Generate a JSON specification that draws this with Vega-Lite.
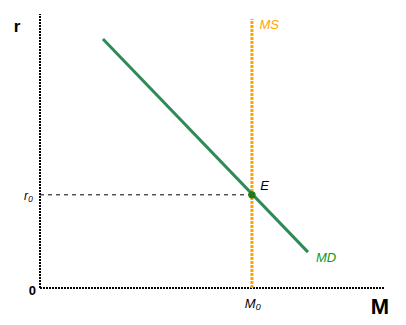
{
  "$schema": "https://vega.github.io/schema/vega-lite/v6.json",
  "width": 344,
  "height": 274,
  "autosize": {"type": "none"},
  "padding": {"left": 40, "top": 14, "right": 22, "bottom": 37},
  "background": "white",
  "config": {"view": {"stroke": null}, "font": "Liberation Sans"},
  "encoding": {
    "x": {"type": "quantitative", "scale": {"domain": [0, 100], "nice": false, "zero": false}, "axis": null},
    "y": {"type": "quantitative", "scale": {"domain": [0, 100], "nice": false, "zero": false}, "axis": null}
  },
  "layer": [
    {
      "data": {"values": [{"x": 0, "y": 0, "x2": 0, "y2": 100}, {"x": 0, "y": 0, "x2": 100, "y2": 0}]},
      "mark": {"type": "rule", "color": "black", "strokeWidth": 2, "strokeDash": [2, 1], "clip": false},
      "encoding": {"x": {"field": "x", "type": "quantitative"}, "y": {"field": "y", "type": "quantitative"}, "x2": {"field": "x2"}, "y2": {"field": "y2"}}
    },
    {
      "data": {"values": [{"x": 0, "y": 34.0, "x2": 61.6}]},
      "mark": {"type": "rule", "color": "black", "strokeWidth": 1, "strokeDash": [4, 4]},
      "encoding": {"x": {"field": "x", "type": "quantitative"}, "y": {"field": "y", "type": "quantitative"}, "x2": {"field": "x2"}}
    },
    {
      "data": {"values": [{"x": 61.6, "y": 0, "y2": 98.2}]},
      "mark": {"type": "rule", "color": "#FFA500", "strokeWidth": 3, "strokeDash": [3, 1]},
      "encoding": {"x": {"field": "x", "type": "quantitative"}, "y": {"field": "y", "type": "quantitative"}, "y2": {"field": "y2"}}
    },
    {
      "data": {"values": [{"x": 18.3, "y": 90.9}, {"x": 77.9, "y": 13.1}]},
      "mark": {"type": "line", "color": "#2e8b57", "strokeWidth": 3},
      "encoding": {"x": {"field": "x", "type": "quantitative"}, "y": {"field": "y", "type": "quantitative"}}
    },
    {
      "data": {"values": [{"x": 61.6, "y": 34.0}]},
      "mark": {"type": "circle", "color": "#1e7a1e", "size": 55, "opacity": 1},
      "encoding": {"x": {"field": "x", "type": "quantitative"}, "y": {"field": "y", "type": "quantitative"}}
    },
    {
      "data": {"values": [{"label": "r₀", "x": -2.0, "y": 33.6}]},
      "mark": {"type": "text", "align": "right", "baseline": "middle", "fontSize": 12, "fontStyle": "italic", "color": "black"},
      "encoding": {"x": {"field": "x", "type": "quantitative"}, "y": {"field": "y", "type": "quantitative"}, "text": {"field": "label"}}
    },
    {
      "data": {"values": [{"label": "0", "x": -1.2, "y": -1.1}]},
      "mark": {"type": "text", "align": "right", "baseline": "middle", "fontSize": 13, "fontWeight": "bold", "color": "black"},
      "encoding": {"x": {"field": "x", "type": "quantitative"}, "y": {"field": "y", "type": "quantitative"}, "text": {"field": "label"}}
    },
    {
      "data": {"values": [{"label": "M₀", "x": 61.9, "y": -5.8}]},
      "mark": {"type": "text", "align": "center", "baseline": "middle", "fontSize": 13, "fontStyle": "italic", "color": "black"},
      "encoding": {"x": {"field": "x", "type": "quantitative"}, "y": {"field": "y", "type": "quantitative"}, "text": {"field": "label"}}
    },
    {
      "data": {"values": [{"label": "E", "x": 64.0, "y": 37.2}]},
      "mark": {"type": "text", "align": "left", "baseline": "middle", "fontSize": 13, "fontStyle": "italic", "color": "black"},
      "encoding": {"x": {"field": "x", "type": "quantitative"}, "y": {"field": "y", "type": "quantitative"}, "text": {"field": "label"}}
    },
    {
      "data": {"values": [{"label": "r", "x": -6.7, "y": 95.3}]},
      "mark": {"type": "text", "align": "center", "baseline": "middle", "fontSize": 17, "fontWeight": "bold", "color": "black"},
      "encoding": {"x": {"field": "x", "type": "quantitative"}, "y": {"field": "y", "type": "quantitative"}, "text": {"field": "label"}}
    },
    {
      "data": {"values": [{"label": "M", "x": 98.8, "y": -7.1}]},
      "mark": {"type": "text", "align": "center", "baseline": "middle", "fontSize": 22, "fontWeight": "bold", "color": "black"},
      "encoding": {"x": {"field": "x", "type": "quantitative"}, "y": {"field": "y", "type": "quantitative"}, "text": {"field": "label"}}
    },
    {
      "data": {"values": [{"label": "MS", "x": 63.8, "y": 96.0}]},
      "mark": {"type": "text", "align": "left", "baseline": "middle", "fontSize": 13, "fontStyle": "italic", "color": "#FFA500"},
      "encoding": {"x": {"field": "x", "type": "quantitative"}, "y": {"field": "y", "type": "quantitative"}, "text": {"field": "label"}}
    },
    {
      "data": {"values": [{"label": "MD", "x": 80.2, "y": 10.9}]},
      "mark": {"type": "text", "align": "left", "baseline": "middle", "fontSize": 13, "fontStyle": "italic", "color": "#119911"},
      "encoding": {"x": {"field": "x", "type": "quantitative"}, "y": {"field": "y", "type": "quantitative"}, "text": {"field": "label"}}
    }
  ]
}
